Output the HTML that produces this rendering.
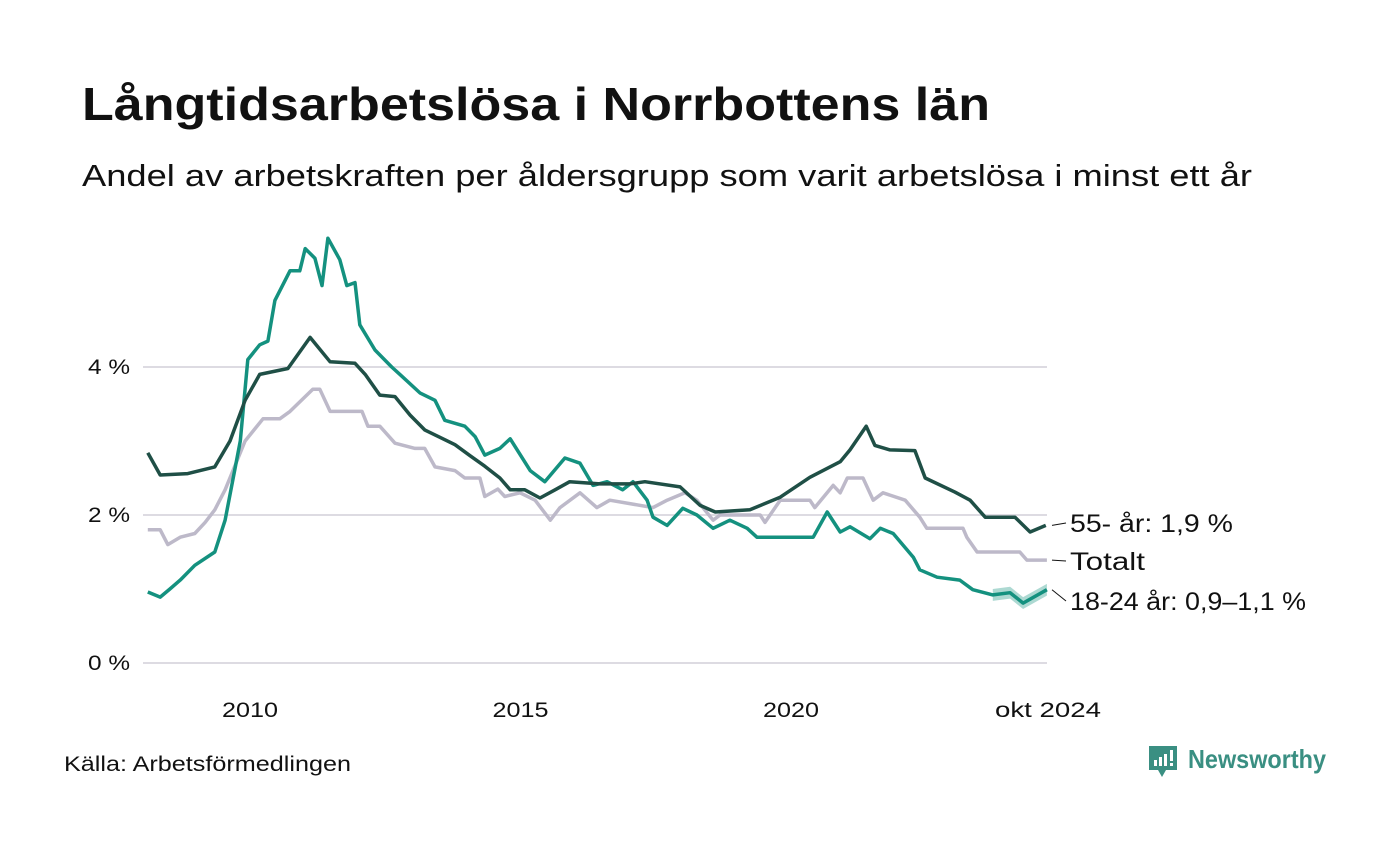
<!DOCTYPE html>
<html><head><meta charset="utf-8"><style>
body{margin:0;background:#fff;width:1400px;height:840px;overflow:hidden;font-family:"Liberation Sans",sans-serif;}
</style></head><body>
<svg width="1400" height="840" viewBox="0 0 1400 840">
<text x="82" y="120" font-size="46" font-weight="bold" fill="#111" textLength="908" lengthAdjust="spacingAndGlyphs">Långtidsarbetslösa i Norrbottens län</text>
<text x="82" y="186" font-size="31" fill="#111" textLength="1170" lengthAdjust="spacingAndGlyphs">Andel av arbetskraften per åldersgrupp som varit arbetslösa i minst ett år</text>
<g id="grid"></g><g id="series"></g><g id="labels"></g>
<text x="64" y="771" font-size="21" fill="#111" textLength="287" lengthAdjust="spacingAndGlyphs">Källa: Arbetsförmedlingen</text>
<g>
<path d="M1149 746 h28 v24 h-11 l-4 7 l-4 -7 h-9 z" fill="#3a8f82"/>
<rect x="1154" y="760" width="3" height="6" fill="#fff"/><rect x="1159" y="757" width="3" height="9" fill="#fff"/><rect x="1164" y="754" width="3" height="12" fill="#fff"/><rect x="1170" y="750" width="3" height="11" fill="#fff"/><rect x="1170" y="763" width="3" height="3" fill="#fff"/>
<text x="1188" y="768" font-size="26" font-weight="bold" fill="#3a8f82" textLength="138" lengthAdjust="spacingAndGlyphs">Newsworthy</text>
</g>
</svg>
<script>
const yTicks=[0,2,4];
const yTickLabels=["0 %","2 %","4 %"];
const xTicks=[2010,2015,2020,2024.75];
const xTickLabels=["2010","2015","2020","okt 2024"];
const oldDates=[2008.11,2008.34,2008.85,2009.35,2009.63,2009.91,2010.18,2010.70,2011.11,2011.48,2011.94,2012.13,2012.40,2012.68,2012.96,2013.23,2013.51,2013.79,2014.07,2014.34,2014.62,2014.81,2015.08,2015.36,2015.64,2015.91,2016.47,2017.02,2017.30,2017.95,2018.32,2018.60,2019.24,2019.80,2020.35,2020.91,2021.09,2021.39,2021.55,2021.83,2022.29,2022.48,2023.03,2023.31,2023.59,2024.14,2024.42,2024.71];
const oldValues=[2.84,2.54,2.56,2.65,3.0,3.55,3.9,3.98,4.4,4.07,4.05,3.9,3.62,3.6,3.35,3.15,3.05,2.95,2.8,2.66,2.5,2.34,2.34,2.23,2.34,2.45,2.42,2.42,2.45,2.38,2.13,2.04,2.07,2.24,2.51,2.72,2.88,3.2,2.94,2.88,2.87,2.5,2.31,2.2,1.97,1.97,1.77,1.86];
const youngDates=[2008.11,2008.34,2008.52,2008.71,2008.98,2009.35,2009.54,2009.82,2009.96,2010.18,2010.33,2010.46,2010.74,2010.92,2011.02,2011.20,2011.33,2011.44,2011.66,2011.79,2011.94,2012.03,2012.31,2012.62,2012.77,2013.14,2013.42,2013.60,2013.97,2014.16,2014.34,2014.62,2014.81,2015.18,2015.45,2015.82,2016.10,2016.34,2016.60,2016.89,2017.08,2017.34,2017.45,2017.71,2018.00,2018.26,2018.56,2018.87,2019.19,2019.37,2019.93,2020.41,2020.67,2020.91,2021.09,2021.46,2021.65,2021.89,2022.26,2022.38,2022.70,2023.12,2023.36,2023.73,2024.05,2024.29,2024.73];
const youngValues=[0.96,0.89,1.0,1.12,1.32,1.5,1.93,3.0,4.1,4.3,4.35,4.9,5.3,5.3,5.6,5.47,5.1,5.74,5.45,5.1,5.14,4.57,4.23,4.0,3.9,3.65,3.55,3.28,3.2,3.06,2.81,2.9,3.03,2.6,2.45,2.77,2.7,2.4,2.45,2.34,2.45,2.2,1.97,1.86,2.09,2.0,1.82,1.93,1.82,1.7,1.7,1.7,2.04,1.77,1.84,1.68,1.82,1.75,1.43,1.26,1.16,1.12,0.99,0.92,0.95,0.81,0.99];
const totalDates=[2008.11,2008.34,2008.48,2008.71,2008.98,2009.17,2009.35,2009.54,2009.91,2010.24,2010.55,2010.74,2011.02,2011.16,2011.29,2011.48,2011.76,2012.07,2012.18,2012.40,2012.68,2013.05,2013.23,2013.42,2013.79,2013.97,2014.25,2014.34,2014.58,2014.71,2014.99,2015.27,2015.55,2015.73,2016.10,2016.41,2016.65,2017.45,2017.71,2018.04,2018.26,2018.56,2018.69,2019.43,2019.52,2019.80,2020.35,2020.44,2020.78,2020.91,2021.04,2021.33,2021.52,2021.70,2022.11,2022.38,2022.51,2022.70,2023.18,2023.25,2023.44,2024.23,2024.36,2024.73];
const totalValues=[1.8,1.8,1.6,1.7,1.75,1.9,2.07,2.34,3.0,3.3,3.3,3.4,3.6,3.7,3.7,3.4,3.4,3.4,3.2,3.2,2.97,2.9,2.9,2.65,2.6,2.5,2.5,2.25,2.35,2.25,2.3,2.2,1.93,2.1,2.3,2.1,2.2,2.1,2.2,2.3,2.2,1.93,2.0,2.0,1.9,2.2,2.2,2.1,2.4,2.3,2.5,2.5,2.2,2.3,2.2,1.97,1.82,1.82,1.82,1.7,1.5,1.5,1.39,1.39];
const bandStart=2023.6, bandHalf=0.08;

const NS="http://www.w3.org/2000/svg";
const X=t=>250+(t-2010)*54.1;
const Y=v=>663-74*v;
function mk(tag,attrs,parent){const e=document.createElementNS(NS,tag);for(const k in attrs)e.setAttribute(k,attrs[k]);parent.appendChild(e);return e;}
const grid=document.getElementById('grid'),ser=document.getElementById('series'),lab=document.getElementById('labels');
yTicks.forEach((v,i)=>{
  const l=mk('line',{x1:143,x2:1047,y1:Y(v),y2:Y(v),stroke:'#dddbe2','stroke-width':2},grid);
  
  
  const t=mk('text',{x:130,y:Y(v)+7,'font-size':21,'text-anchor':'end',fill:'#111',textLength:42,lengthAdjust:'spacingAndGlyphs'},grid);
  t.textContent=yTickLabels[i];
  
  
});
xTicks.forEach((v,i)=>{
  const w=xTickLabels[i].length>4?106:56;
  const t=mk('text',{x:X(v)-w/2,y:717,'font-size':21,fill:'#111',textLength:w,lengthAdjust:'spacingAndGlyphs'},grid);
  t.textContent=xTickLabels[i];
  
  
});
function pts(d,v){return d.map((t,i)=>X(t).toFixed(1)+','+Y(v[i]).toFixed(1)).join(' ');}
const bi=youngDates.map((t,i)=>i).filter(i=>youngDates[i]>=bandStart);
const up=bi.map(i=>X(youngDates[i])+','+Y(youngValues[i]+bandHalf));
const dn=bi.slice().reverse().map(i=>X(youngDates[i])+','+Y(youngValues[i]-bandHalf));
const band=mk('polygon',{points:up.concat(dn).join(' '),fill:'#14917f','fill-opacity':0.35},ser);


const s1=mk('polyline',{points:pts(totalDates,totalValues),fill:'none',stroke:'#bdb9c9','stroke-width':3.5,'stroke-linejoin':'round'},ser);


const s2=mk('polyline',{points:pts(youngDates,youngValues),fill:'none',stroke:'#14917f','stroke-width':3.5,'stroke-linejoin':'round'},ser);


const s3=mk('polyline',{points:pts(oldDates,oldValues),fill:'none',stroke:'#1f4f46','stroke-width':3.5,'stroke-linejoin':'round'},ser);


const labs=[["55- år: 1,9 %",oldValues[oldValues.length-1],532,163],["Totalt",totalValues[totalValues.length-1],570,75],["18-24 år: 0,9–1,1 %",youngValues[youngValues.length-1],610,236]];
labs.forEach(([txt,v,ly,w])=>{
  const l=mk('line',{x1:1052,y1:Y(v),x2:1066,y2:ly-9,stroke:'#111','stroke-width':1},lab);
  
  
  const t=mk('text',{x:1070,y:ly,'font-size':25,fill:'#111',textLength:w,lengthAdjust:'spacingAndGlyphs'},lab);
  t.textContent=txt;
  
  
});
</script>
</body></html>
